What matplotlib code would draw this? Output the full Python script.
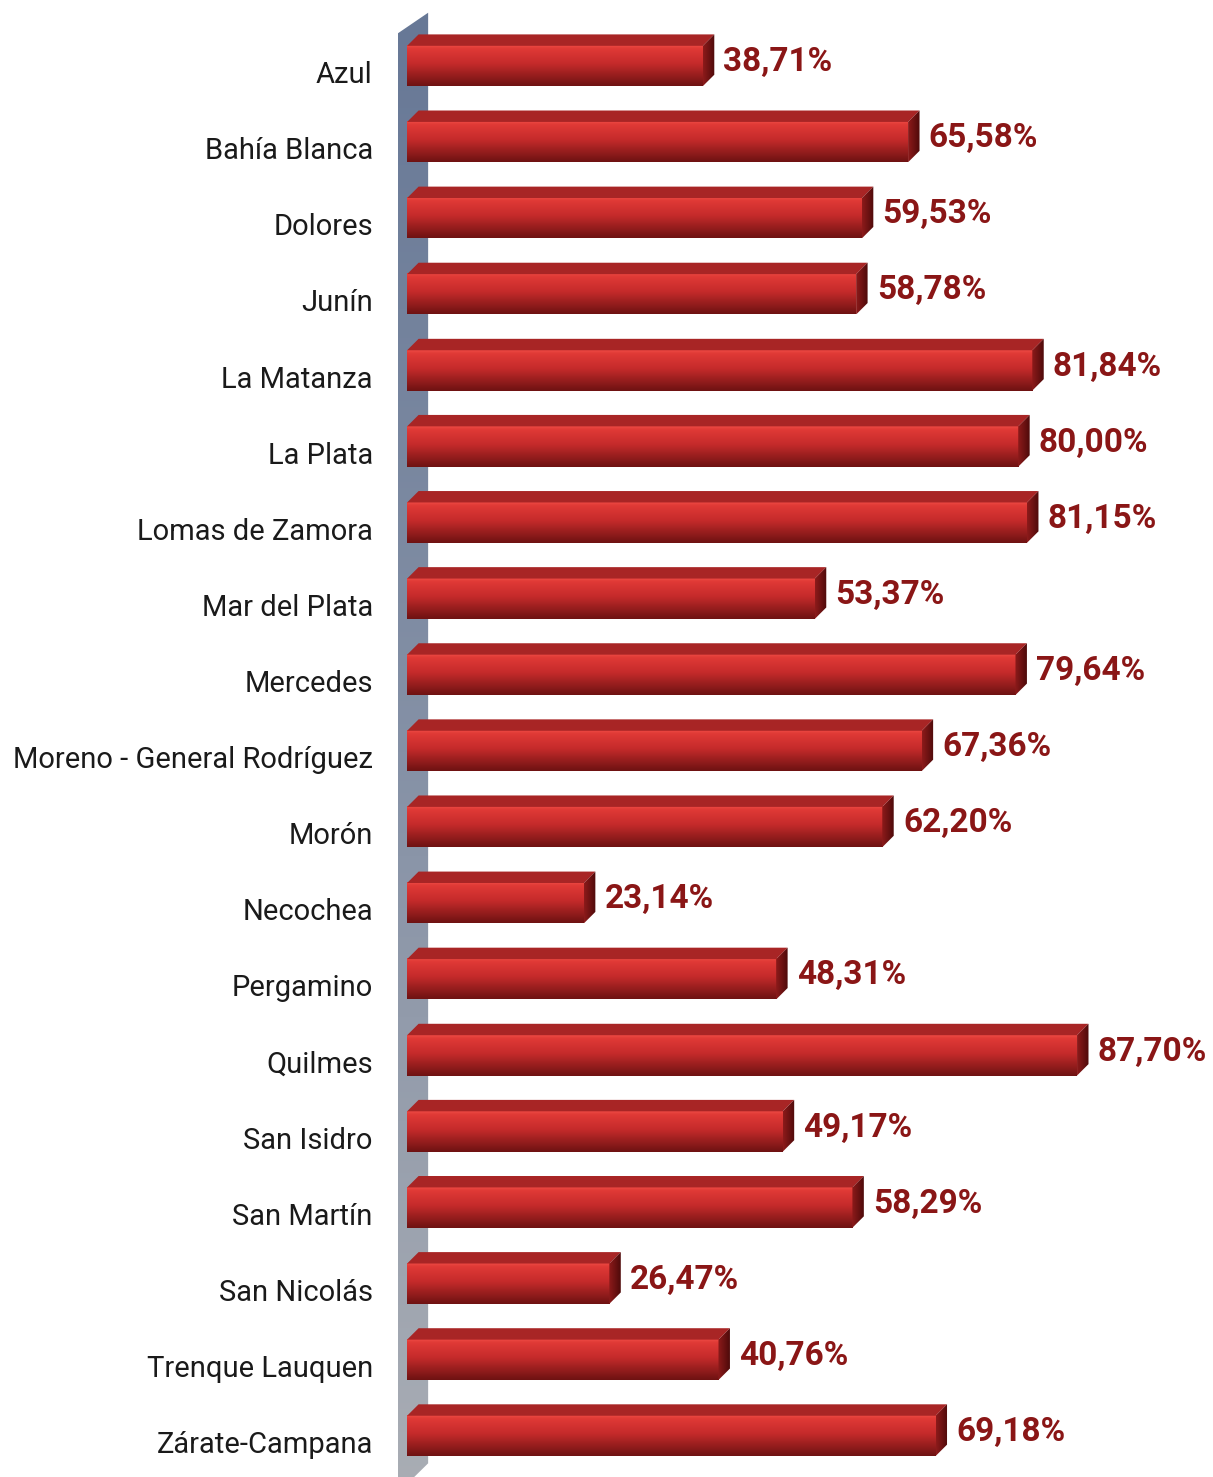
import numpy as np
import matplotlib.pyplot as plt
from matplotlib.patches import Polygon
from matplotlib.colors import LinearSegmentedColormap

# Data
categories = ['Azul', 'Bahía Blanca', 'Dolores', 'Junín', 'La Matanza', 'La Plata',
              'Lomas de Zamora', 'Mar del Plata', 'Mercedes', 'Moreno - General Rodríguez',
              'Morón', 'Necochea', 'Pergamino', 'Quilmes', 'San Isidro', 'San Martín',
              'San Nicolás', 'Trenque Lauquen', 'Zárate-Campana']
values = [38.71, 65.58, 59.53, 58.78, 81.84, 80.00, 81.15, 53.37, 79.64, 67.36,
          62.20, 23.14, 48.31, 87.70, 49.17, 58.29, 26.47, 40.76, 69.18]
value_labels = [f"{v:.2f}".replace('.', ',') + '%' for v in values]

plt.rcParams['font.family'] = ['Roboto', 'DejaVu Sans']

fig = plt.figure(figsize=(12.13, 14.77), dpi=100)
ax = fig.add_axes([0, 0, 1, 1])
ax.set_xlim(-53.3, 105.5)
ax.set_ylim(18.54, -0.867)
ax.axis('off')

# 3D look parameters (data units)
half_h = 0.265   # half height of the front face
dx = 1.5         # depth to the right
dy = 0.15        # depth upwards

front_cmap = LinearSegmentedColormap.from_list(
    'front', [(0, '#ee4a44'), (0.08, '#e03a36'), (0.45, '#c52b2b'), (1, '#6e1212')])
end_cmap = LinearSegmentedColormap.from_list('end', ['#8e1b1b', '#4e0a0a'])
wall_cmap = LinearSegmentedColormap.from_list('wall', ['#677896', '#8591a6', '#a9adb4'])
grad = np.linspace(0, 1, 200).reshape(-1, 1)

# back wall
wall_l, wall_r = -1.2, 2.75
wall = Polygon([(wall_l, -0.43), (wall_r, -0.70), (wall_r, 18.36), (wall_l, 18.75)],
               closed=True, facecolor='none', edgecolor='none')
ax.add_patch(wall)
im = ax.imshow(grad, cmap=wall_cmap, extent=[wall_l, wall_r, 18.75, -0.70],
               origin='upper', aspect='auto', interpolation='bicubic', zorder=1)
im.set_clip_path(wall)

for i, (cat, v, lab) in enumerate(zip(categories, values, value_labels)):
    top, bot = i - half_h, i + half_h
    # front face with vertical gradient
    ax.imshow(grad, cmap=front_cmap, extent=[0, v, bot, top], origin='upper',
              aspect='auto', interpolation='bicubic', zorder=3)
    # top face
    ax.add_patch(Polygon([(0, top), (dx, top - dy), (v + dx, top - dy), (v, top)],
                         closed=True, facecolor='#a82525', edgecolor='none', zorder=3))
    # end face
    end = Polygon([(v, top), (v + dx, top - dy), (v + dx, bot - dy), (v, bot)],
                  closed=True, facecolor='none', edgecolor='none')
    ax.add_patch(end)
    eim = ax.imshow(grad.T, cmap=end_cmap, extent=[v, v + dx, bot, top - dy],
                    origin='upper', aspect='auto', interpolation='bicubic', zorder=3)
    eim.set_clip_path(end)

    ax.text(v + dx + 1.2, i - 0.05, lab, ha='left', va='center', fontsize=24,
            fontweight='bold', color='#8a1616', zorder=4)
    ax.text(-4.5, i + 0.12, cat, ha='right', va='center', fontsize=21,
            color='#1a1a1a', zorder=4)

fig.savefig('out.png', dpi=100)
